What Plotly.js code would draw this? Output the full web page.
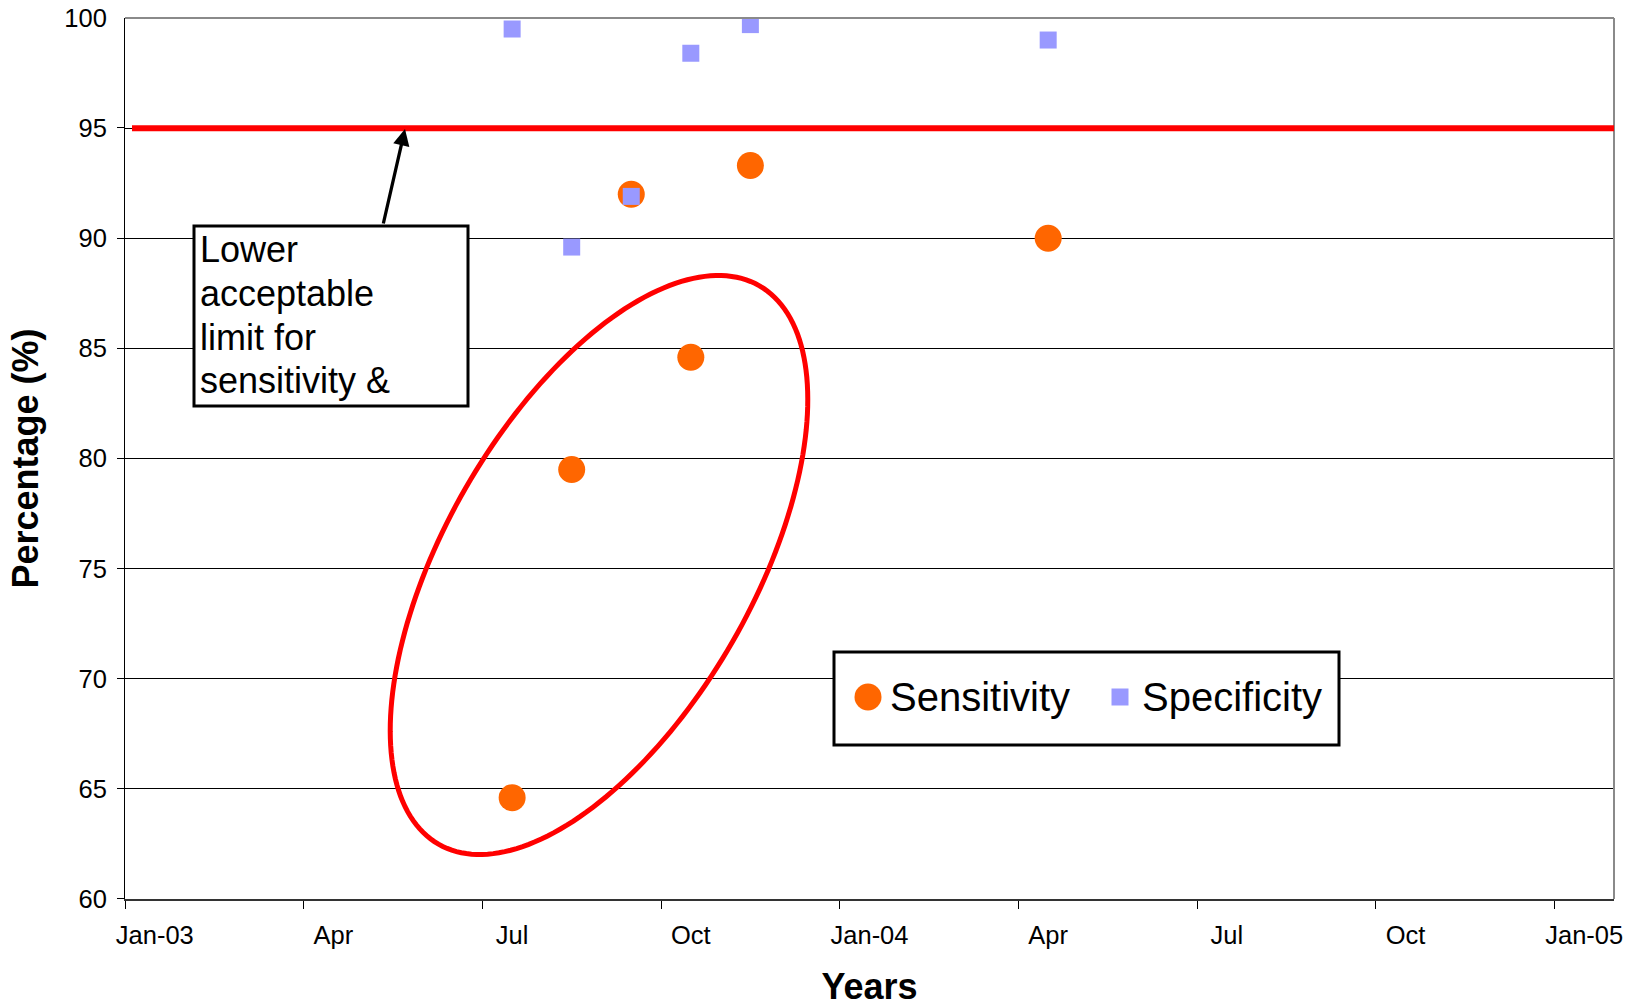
<!DOCTYPE html>
<html><head><meta charset="utf-8">
<script src="https://cdn.plot.ly/plotly-3.0.1.min.js"></script>
<style>html,body{margin:0;padding:0;background:#fff}#chart{width:1632px;height:1008px}</style>
</head><body><div id="chart"></div>
<script>
// ---------------- data ----------------
const seriesNames = ['Sensitivity', 'Specificity'];
const sampleMonths = ['2003-07', '2003-08', '2003-09', '2003-10', '2003-11', '2004-04'];
const sensitivity = [64.6, 79.5, 92.0, 84.6, 93.3, 90.0];
const specificity = [99.5, 89.6, 91.9, 98.4, 99.7, 99.0];
const lowerLimit = 95;
const tickMonths = ['2003-01','2003-04','2003-07','2003-10','2004-01','2004-04','2004-07','2004-10','2005-01'];
const tickLabels = ['Jan-03','Apr','Jul','Oct','Jan-04','Apr','Jul','Oct','Jan-05'];
const yTicks = [60, 65, 70, 75, 80, 85, 90, 95, 100];
const boxLines = ['Lower', 'acceptable', 'limit for', 'sensitivity &'];
const xTitle = 'Years';
const yTitle = 'Percentage (%)';

// ---------------- helpers / geometry ----------------
const START_YEAR = 2003;
function monthIndex(s){ const p = s.split('-').map(Number); return (p[0]-START_YEAR)*12 + (p[1]-1); }

const W = 1632, H = 1008, ML = 125, MR = 18, MT = 18, MB = 109;
const PW = W - ML - MR, PH = H - MT - MB;
const X_RANGE = [-0.5, 24.5], Y_RANGE = [60, 100];
const pxPerMonth = PW / (X_RANGE[1] - X_RANGE[0]);
const pxPerUnit = PH / (Y_RANGE[1] - Y_RANGE[0]);
function px2paperX(px){ return (px - ML) / PW; }
function px2paperY(py){ return (H - MB - py) / PH; }
function px2dataX(px){ return X_RANGE[0] + (px - ML) / pxPerMonth; }
function px2dataY(py){ return Y_RANGE[1] - (py - MT) / pxPerUnit; }

const FONT = '"Liberation Sans", Arial, Helvetica, sans-serif';
const ORANGE = '#FF6600', LAVENDER = '#9999FF';
const CLEAR = 'rgba(0,0,0,0)';

// ellipse annotation (pixel geometry)
const ell = {cx: 599, cy: 565, a: 322, b: 154, angleDeg: 60.1};
function ellipsePath(){
  const cx = px2dataX(ell.cx), cy = px2dataY(ell.cy);
  const th = ell.angleDeg * Math.PI / 180;
  let d = '';
  const N = 200;
  for (let i = 0; i <= N; i++){
    const t = i / N * 2 * Math.PI;
    const dx = ell.a*Math.cos(t)*Math.cos(th) - ell.b*Math.sin(t)*Math.sin(th);
    const dy = ell.a*Math.cos(t)*Math.sin(th) + ell.b*Math.sin(t)*Math.cos(th);
    d += (i ? 'L' : 'M') + (cx + dx/pxPerMonth).toFixed(5) + ',' + (cy + dy/pxPerUnit).toFixed(5);
  }
  return d + 'Z';
}

// ---------------- traces ----------------
const xs = sampleMonths.map(monthIndex);
const traces = [
  {type: 'scatter', mode: 'markers', name: seriesNames[0], x: xs, y: sensitivity,
   marker: {symbol: 'circle', size: 27, color: ORANGE, line: {width: 0}}, hoverinfo: 'y+name'},
  {type: 'scatter', mode: 'markers', name: seriesNames[1], x: xs, y: specificity,
   marker: {symbol: 'square', size: 17, color: LAVENDER, line: {width: 0}}, hoverinfo: 'y+name'}
];

// ---------------- shapes ----------------
const shapes = [
  // top & right frame
  {type: 'line', xref: 'paper', yref: 'paper', x0: 0, x1: 1, y0: 1, y1: 1, line: {color: '#8a8a8a', width: 2}},
  {type: 'line', xref: 'paper', yref: 'paper', x0: 1, x1: 1, y0: 0, y1: 1, line: {color: '#8a8a8a', width: 2}},
  // lower acceptable limit
  {type: 'line', xref: 'x', yref: 'y', x0: px2dataX(132), x1: X_RANGE[1], y0: lowerLimit, y1: lowerLimit,
   line: {color: '#FF0000', width: 6}},
  // ellipse highlighting low sensitivity
  {type: 'path', xref: 'x', yref: 'y', path: ellipsePath(), line: {color: '#FF0000', width: 5}},
  // text box
  {type: 'rect', xref: 'paper', yref: 'paper', x0: px2paperX(194), x1: px2paperX(468),
   y0: px2paperY(406), y1: px2paperY(226), line: {color: '#000', width: 3}, fillcolor: '#fff'},
  // legend box
  {type: 'rect', xref: 'paper', yref: 'paper', x0: px2paperX(834), x1: px2paperX(1339),
   y0: px2paperY(745), y1: px2paperY(652), line: {color: '#000', width: 3}, fillcolor: '#fff'},
  // legend symbols
  {type: 'circle', xref: 'paper', yref: 'paper', xsizemode: 'pixel', ysizemode: 'pixel',
   xanchor: px2paperX(868), yanchor: px2paperY(697), x0: -13.5, x1: 13.5, y0: -13.5, y1: 13.5,
   fillcolor: ORANGE, line: {width: 0}},
  {type: 'rect', xref: 'paper', yref: 'paper', xsizemode: 'pixel', ysizemode: 'pixel',
   xanchor: px2paperX(1120), yanchor: px2paperY(697), x0: -8.5, x1: 8.5, y0: -8.5, y1: 8.5,
   fillcolor: LAVENDER, line: {width: 0}}
];

// ---------------- annotations ----------------
const annotations = [
  {xref: 'paper', yref: 'paper', x: px2paperX(405), y: px2paperY(129), text: '',
   showarrow: true, ax: -22, ay: 96, arrowhead: 2, arrowsize: 1, arrowwidth: 3.3, arrowcolor: '#000'},
  {xref: 'paper', yref: 'paper', x: px2paperX(1141), y: px2paperY(697), xanchor: 'left', yanchor: 'middle',
   showarrow: false, text: seriesNames[1], font: {size: 40, color: '#000', family: FONT}, borderpad: 0},
  {xref: 'paper', yref: 'paper', x: px2paperX(889), y: px2paperY(697), xanchor: 'left', yanchor: 'middle',
   showarrow: false, text: seriesNames[0], font: {size: 40, color: '#000', family: FONT}, borderpad: 0}
];
// box text, one annotation per line (the original wraps the text inside a fixed box)
const boxLineCenters = [250, 293.7, 337.4, 381];
boxLines.forEach(function(line, i){
  annotations.push({xref: 'paper', yref: 'paper', x: px2paperX(199), y: px2paperY(boxLineCenters[i] - 21.6),
    xanchor: 'left', yanchor: 'top', align: 'left', showarrow: false, text: line,
    font: {size: 36, color: '#000', family: FONT}, borderpad: 0});
});

const layout = {
  width: W, height: H,
  margin: {l: ML, r: MR, t: MT, b: MB, pad: 0},
  paper_bgcolor: '#fff', plot_bgcolor: '#fff',
  font: {family: FONT, color: '#000'},
  showlegend: false,
  hovermode: 'closest',
  xaxis: {
    range: X_RANGE, autorange: false,
    tickmode: 'array', tickvals: tickMonths.map(monthIndex), ticktext: tickLabels,
    ticks: 'outside', ticklen: 12, tickwidth: 1, tickcolor: CLEAR,
    minor: {tickmode: 'array', tickvals: tickMonths.map(function(m){ return monthIndex(m) - 0.5; }),
            ticks: 'outside', ticklen: 8, tickwidth: 1, tickcolor: '#000', showgrid: false},
    showgrid: false, zeroline: false, showline: true, linecolor: '#333', linewidth: 2,
    tickfont: {size: 25.5, color: '#000', family: FONT},
    title: {text: '<b>' + xTitle + '</b>', font: {size: 36, color: '#000', family: FONT}, standoff: 26},
    fixedrange: true
  },
  yaxis: {
    range: Y_RANGE, autorange: false,
    tickmode: 'array', tickvals: yTicks,
    ticks: 'outside', ticklen: 12, tickwidth: 1, tickcolor: CLEAR,
    minor: {tickmode: 'array', tickvals: yTicks.map(function(v){ return v + 0.01; }),
            ticks: 'outside', ticklen: 7, tickwidth: 1, tickcolor: '#000', showgrid: false},
    showgrid: true, gridcolor: '#000', gridwidth: 1, zeroline: false,
    showline: true, linecolor: '#000', linewidth: 1,
    tickfont: {size: 25.5, color: '#000', family: FONT},
    title: {text: '<b>' + yTitle + '</b>', font: {size: 36, color: '#000', family: FONT}, standoff: 14},
    fixedrange: true
  },
  shapes: shapes,
  annotations: annotations
};

Plotly.newPlot('chart', traces, layout, {displayModeBar: false, responsive: false});
</script>
</body></html>
